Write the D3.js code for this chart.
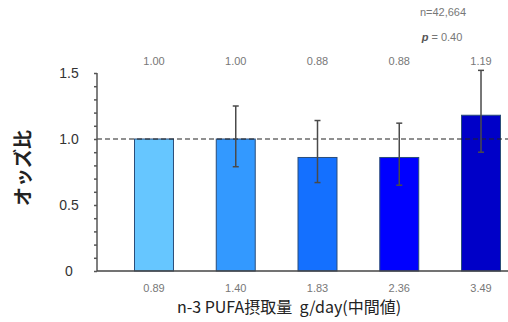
<!DOCTYPE html>
<html>
<head>
<meta charset="utf-8">
<script src="https://cdn.jsdelivr.net/npm/d3@7"></script>
<style>
  body { margin: 0; background: #fff; }
  text { font-family: "Liberation Sans", Arial, "Noto Sans CJK JP", sans-serif; }
</style>
</head>
<body>
<div id="chart"></div>
<script>
// quintiles of n-3 PUFA intake, median g/day
let medians = ["0.89", "1.40", "1.83", "2.36", "3.49"];
let oddsRatio = [1.00, 1.00, 0.86, 0.86, 1.18];
let orLabels = ["1.00", "1.00", "0.88", "0.88", "1.19"];
let ciLow = [null, 0.79, 0.67, 0.65, 0.90];
let ciHigh = [null, 1.25, 1.14, 1.12, 1.52];
let barColors = ["#66c6ff", "#3399ff", "#1470ff", "#0000ff", "#0000c8"];
let yTicks = [0, 0.5, 1.0, 1.5];
let yTickLabels = ["0", "0.5", "1.0", "1.5"];

let svgWidth = 508;
let svgHeight = 322;
let left = 97;

let svg = d3.select("#chart")
  .append("svg")
  .attr("width", svgWidth)
  .attr("height", svgHeight)

let xScale = d3.scaleBand().domain(d3.range(medians.length)).range([134, 501]).paddingInner(0.511).paddingOuter(0)
let yScale = d3.scaleLinear().domain([0, 1.5]).range([271, 73])

// bars
svg.selectAll("rect.bar")
  .data(oddsRatio)
  .enter()
  .append("rect")
  .attr("class", "bar")
  .attr("x", (d, i) => xScale(i) + 0.5)
  .attr("width", xScale.bandwidth() - 1)
  .attr("y", d => yScale(d))
  .attr("height", d => yScale(0) - yScale(d))
  .attr("fill", (d, i) => barColors[i])
  .attr("stroke", "#2a4d7a")
  .attr("stroke-width", 1)

// reference line at OR = 1
svg.append("line")
  .attr("x1", left).attr("x2", svgWidth)
  .attr("y1", yScale(1)).attr("y2", yScale(1))
  .attr("stroke", "#222")
  .attr("stroke-width", 1.2)
  .attr("stroke-dasharray", "5,3")

// error bars
let errs = svg.selectAll("g.err")
  .data(d3.range(medians.length).filter(i => ciLow[i] != null))
  .enter()
  .append("g")
  .attr("class", "err")
  .attr("stroke", "#4a4a4a")
  .attr("stroke-width", 1.5)

errs.append("line")
  .attr("x1", i => xScale(i) + xScale.bandwidth() / 2)
  .attr("x2", i => xScale(i) + xScale.bandwidth() / 2)
  .attr("y1", i => yScale(ciLow[i]))
  .attr("y2", i => yScale(ciHigh[i]))

errs.selectAll("line.cap")
  .data(i => [[i, ciLow[i]], [i, ciHigh[i]]])
  .enter()
  .append("line")
  .attr("class", "cap")
  .attr("x1", d => xScale(d[0]) + xScale.bandwidth() / 2 - 3)
  .attr("x2", d => xScale(d[0]) + xScale.bandwidth() / 2 + 3)
  .attr("y1", d => yScale(d[1]))
  .attr("y2", d => yScale(d[1]))

// y axis with minor ticks every 0.1
let yAxis = d3.axisLeft(yScale).tickValues(d3.range(0, 1.51, 0.1)).tickSize(3).tickFormat("")
let yG = svg.append("g")
  .attr("transform", `translate(${left},0)`)
  .call(yAxis)
yG.select(".domain").attr("stroke", "#555").attr("stroke-width", 1.5).attr("d", `M0,${yScale(1.5)}V${yScale(0)}`)
yG.selectAll(".tick line").attr("stroke", "#555").attr("stroke-width", 1.5)

svg.selectAll("text.ytick")
  .data(yTicks)
  .enter()
  .append("text")
  .attr("class", "ytick")
  .attr("x", 69)
  .attr("y", d => yScale(d) + 5)
  .attr("text-anchor", "middle")
  .attr("font-size", 14)
  .attr("fill", "#333")
  .text((d, i) => yTickLabels[i])

// x axis baseline
let xAxis = d3.axisBottom(xScale).tickSize(0).tickFormat(i => medians[i])
let xG = svg.append("g")
  .attr("transform", `translate(0,${yScale(0)})`)
  .call(xAxis)
xG.select(".domain").attr("stroke", "#444").attr("stroke-width", 1.5).attr("d", `M${left},0H${svgWidth}`)
xG.selectAll(".tick text")
  .attr("dy", 0)
  .attr("y", 21)
  .attr("font-size", 11)
  .attr("fill", "#777")
  .style("font-family", "Liberation Sans, Arial, sans-serif")

// value labels above plot
svg.selectAll("text.orlab")
  .data(orLabels)
  .enter()
  .append("text")
  .attr("class", "orlab")
  .attr("x", (d, i) => xScale(i) + xScale.bandwidth() / 2)
  .attr("y", 65)
  .attr("text-anchor", "middle")
  .attr("font-size", 11)
  .attr("fill", "#777")
  .text(d => d)

svg.append("text")
  .attr("x", 443).attr("y", 16)
  .attr("text-anchor", "middle")
  .attr("font-size", 11)
  .attr("fill", "#777")
  .text("n=42,664")

let pText = svg.append("text")
  .attr("x", 442).attr("y", 41)
  .attr("text-anchor", "middle")
  .attr("font-size", 11)
  .attr("fill", "#777")
pText.append("tspan").attr("font-style", "italic").attr("font-weight", "bold").attr("fill", "#555").text("p")
pText.append("tspan").text(" = 0.40")

// axis titles
svg.append("text")
  .attr("transform", "translate(30,168) rotate(-90)")
  .attr("text-anchor", "middle")
  .attr("font-size", 19)
  .attr("font-weight", "bold")
  .attr("fill", "#222")
  .style("font-family", "Noto Sans CJK JP, sans-serif")
  .text("オッズ比")

svg.append("text")
  .attr("x", 289).attr("y", 313)
  .attr("text-anchor", "middle")
  .attr("font-size", 16)
  .attr("fill", "#222")
  .style("font-family", "Noto Sans CJK JP, sans-serif")
  .style("white-space", "pre")
  .text("n-3 PUFA摂取量  g/day(中間値)")
</script>
</body>
</html>
